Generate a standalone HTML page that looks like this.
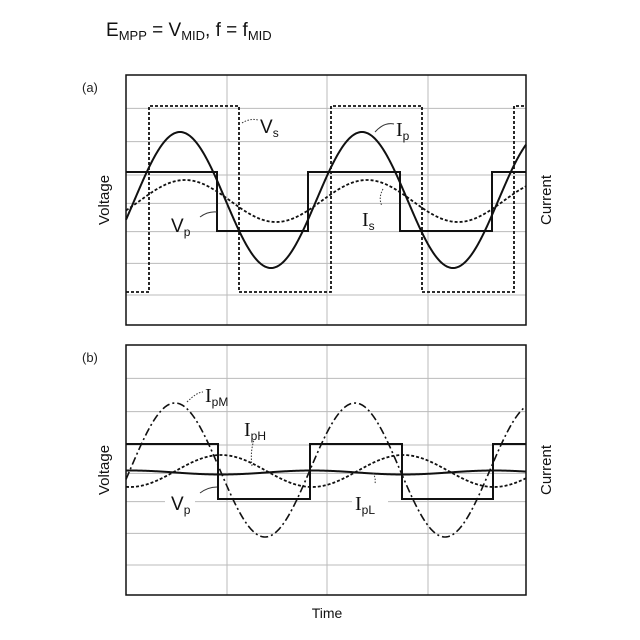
<!DOCTYPE html>
<html><head><meta charset="utf-8"><style>
html,body{margin:0;padding:0;background:#fff;}
svg{display:block;font-family:"Liberation Sans",sans-serif;}
</style></head><body>
<svg id="s" width="640" height="640" viewBox="0 0 640 640" xmlns="http://www.w3.org/2000/svg">
<rect width="640" height="640" fill="#fff"/>
<text x="106" y="36" font-size="19" fill="#111">E<tspan font-size="13" dy="4">MPP</tspan><tspan dy="-4"> = V</tspan><tspan font-size="13" dy="4">MID</tspan><tspan dy="-4">,  f = f</tspan><tspan font-size="13" dy="4">MID</tspan></text>
<text x="82" y="92" font-size="13" fill="#222">(a)</text>
<text x="82" y="362" font-size="13" fill="#222">(b)</text>
<g id="grid" stroke="#bbb" stroke-width="1" fill="none"></g>
<g id="curves" fill="none"></g>
<g fill="#fff">
<rect x="240" y="420" width="34" height="22"/>
<rect x="165" y="492" width="30" height="22"/>
<rect x="352" y="492" width="36" height="22"/>
</g>
<g font-size="15" fill="#111">
<text transform="translate(109,200) rotate(-90)" text-anchor="middle">Voltage</text>
<text transform="translate(551,200) rotate(-90)" text-anchor="middle">Current</text>
<text transform="translate(109,470) rotate(-90)" text-anchor="middle">Voltage</text>
<text transform="translate(551,470) rotate(-90)" text-anchor="middle">Current</text>
<text x="327" y="618" text-anchor="middle" font-size="14">Time</text>
<text x="260" y="133" font-size="19">V<tspan font-size="12" dy="4">s</tspan></text>
<text x="396" y="136" font-family="Liberation Serif,serif" font-size="20">I<tspan font-family="Liberation Sans" font-size="12" dy="4">p</tspan></text>
<text x="171" y="232" font-size="19">V<tspan font-size="12" dy="4">p</tspan></text>
<text x="362" y="226" font-family="Liberation Serif,serif" font-size="20">I<tspan font-family="Liberation Sans" font-size="12" dy="4">s</tspan></text>
<text x="205" y="402" font-family="Liberation Serif,serif" font-size="20">I<tspan font-family="Liberation Sans" font-size="12" dy="4">pM</tspan></text>
<text x="244" y="436" font-family="Liberation Serif,serif" font-size="20">I<tspan font-family="Liberation Sans" font-size="12" dy="4">pH</tspan></text>
<text x="171" y="510" font-size="19">V<tspan font-size="12" dy="4">p</tspan></text>
<text x="355" y="510" font-family="Liberation Serif,serif" font-size="20">I<tspan font-family="Liberation Sans" font-size="12" dy="4">pL</tspan></text>
</g>
<g stroke="#333" stroke-width="1" fill="none" stroke-dasharray="1.5,1.5">
<path d="M242,123 Q250,118 258,120"/>
<path d="M187,402 Q197,392 203,392"/>
<path d="M252,466 Q250,452 254,440"/>
<path d="M373,473 Q376,478 375,484"/>
<path d="M383,189 Q378,198 382,206"/>
</g>
<g stroke="#333" stroke-width="1" fill="none">
<path d="M375,132 Q384,122 394,124"/>
<path d="M200,217 Q208,211 217,212"/>
<path d="M200,493 Q208,487 217,487"/>
</g>
</svg>
<script>
var NS="http://www.w3.org/2000/svg";
var g=document.getElementById('grid'),c=document.getElementById('curves');
function add(par,d,a){var e=document.createElementNS(NS,'path');e.setAttribute('d',d);for(var k in a)e.setAttribute(k,a[k]);par.appendChild(e);}
function panel(top){
 var hs=[100,200,300,385,470,565,660].map(function(z){return top+z/3;});
 var d='';hs.forEach(function(y){d+='M126,'+y+'H526';});
 [227,327,428].forEach(function(x){d+='M'+x+','+top+'V'+(top+250);});
 add(g,d,{});
 add(c,'M126,'+top+'h400v250h-400z',{stroke:'#111','stroke-width':1.5});
}
panel(75);panel(345);
function sine(f,x0,x1){var d='';for(var x=x0;x<=x1;x+=1){d+=(x==x0?'M':'L')+x+','+f(x).toFixed(2);}return d;}
var P=182,T=2*Math.PI;
add(c,'M126,292H149V106H239V292H331V106H422V292H514V106H526',{stroke:'#111','stroke-width':1.8,'stroke-dasharray':'3,2'});
add(c,'M126,172H217V231H308V172H400V231H492V172H526',{stroke:'#111','stroke-width':2});
add(c,sine(function(x){return 200-68*Math.sin(T*(x-316.5)/P);},126,526),{stroke:'#111','stroke-width':2});
add(c,sine(function(x){return 201-21*Math.cos(T*(x-367)/P);},126,526),{stroke:'#111','stroke-width':1.8,'stroke-dasharray':'3,2'});
add(c,'M126,444H218V499H310V444H402V499H493V444H526',{stroke:'#111','stroke-width':2});
add(c,sine(function(x){return 470-67*Math.cos(T*(x-355)/180);},126,526),{stroke:'#111','stroke-width':1.6,'stroke-dasharray':'8,3,2,3'});
add(c,sine(function(x){return 471-16*Math.cos(T*(x-403)/P);},126,526),{stroke:'#111','stroke-width':1.8,'stroke-dasharray':'3,2'});
add(c,sine(function(x){return 472.5+2*Math.cos(T*(x-403)/P);},126,526),{stroke:'#111','stroke-width':2});
</script>
</body></html>
